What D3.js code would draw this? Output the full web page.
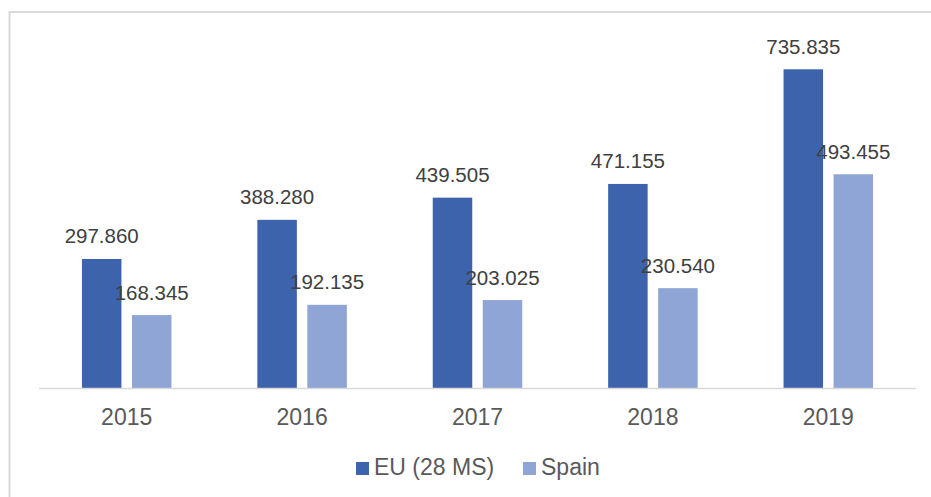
<!DOCTYPE html>
<html>
<head>
<meta charset="utf-8">
<script src="https://cdn.jsdelivr.net/npm/d3@7"></script>
<style>
  body { margin: 0; background: #fff; }
  svg { display: block; }
</style>
</head>
<body>
<svg id="chart" width="931" height="497"></svg>
<script>
// data
const years = ["2015", "2016", "2017", "2018", "2019"];
const seriesNames = ["EU (28 MS)", "Spain"];
const euValues = [297.860, 388.280, 439.505, 471.155, 735.835];
const spainValues = [168.345, 192.135, 203.025, 230.540, 493.455];
const seriesColors = ["#3c63ab", "#8fa5d5"];

let svg = d3.select("#chart");
let fontFamily = "Arial, 'Liberation Sans', sans-serif";

let left = 39, right = 916, baseY = 388;

// chart frame (only left/top edges are visible in the picture)
svg.append("rect")
  .attr("x", 9.5)
  .attr("y", 12)
  .attr("width", 960)
  .attr("height", 520)
  .style("fill", "none")
  .style("stroke", "#d9d9d9")
  .style("stroke-width", 2);

let x0 = d3.scaleBand()
  .domain(years)
  .range([left, right]);

let bw = x0.bandwidth();
let x1 = d3.scaleBand()
  .domain(seriesNames)
  .range([bw / 2 - 44.75, bw / 2 + 44.75])
  .paddingInner(0.21);

let y = d3.scaleLinear()
  .domain([0, 800])
  .range([baseY, baseY - 800 * 0.4331]);

let rows = years.map((yr, i) => ({
  year: yr,
  vals: [euValues[i], spainValues[i]]
}));

let groups = svg.selectAll(".grp")
  .data(rows)
  .enter().append("g")
  .attr("class", "grp")
  .attr("transform", d => "translate(" + x0(d.year) + ",0)");

groups.selectAll("rect")
  .data(d => d.vals.map((v, j) => ({ name: seriesNames[j], value: v, j: j })))
  .enter().append("rect")
  .attr("x", d => x1(d.name))
  .attr("y", d => y(d.value))
  .attr("width", x1.bandwidth())
  .attr("height", d => baseY - y(d.value))
  .style("fill", d => seriesColors[d.j]);

// value labels
groups.selectAll("text.val")
  .data(d => d.vals.map((v, j) => ({ name: seriesNames[j], value: v, j: j })))
  .enter().append("text")
  .attr("class", "val")
  .attr("x", d => x1(d.name) + x1.bandwidth() / 2)
  .attr("y", d => y(d.value) - 15.5)
  .attr("text-anchor", "middle")
  .text(d => d3.format(".3f")(d.value))
  .style("font-family", fontFamily)
  .style("font-size", "20.5px")
  .style("fill", "#404040");

// baseline
svg.append("line")
  .attr("x1", left)
  .attr("x2", right)
  .attr("y1", baseY + 0.5)
  .attr("y2", baseY + 0.5)
  .style("stroke", "#d9d9d9")
  .style("stroke-width", 1.5);

// x axis labels
let xAxis = d3.axisBottom(x0).tickSize(0).tickPadding(0);
let axisG = svg.append("g")
  .attr("transform", "translate(0," + baseY + ")")
  .call(xAxis);
axisG.select(".domain").remove();
axisG.selectAll("text")
  .attr("y", 0)
  .attr("dy", "37px")
  .style("font-family", fontFamily)
  .style("font-size", "23px")
  .style("fill", "#595959");

// legend
let legendItems = [
  { name: seriesNames[0], color: seriesColors[0], x: 356 },
  { name: seriesNames[1], color: seriesColors[1], x: 523 }
];
let leg = svg.selectAll(".legend")
  .data(legendItems)
  .enter().append("g")
  .attr("class", "legend")
  .attr("transform", d => "translate(" + d.x + ",462)");
leg.append("rect")
  .attr("width", 13)
  .attr("height", 13)
  .style("fill", d => d.color);
leg.append("text")
  .attr("x", 18)
  .attr("y", 13)
  .text(d => d.name)
  .style("font-family", fontFamily)
  .style("font-size", "23px")
  .style("fill", "#595959");
</script>
</body>
</html>
